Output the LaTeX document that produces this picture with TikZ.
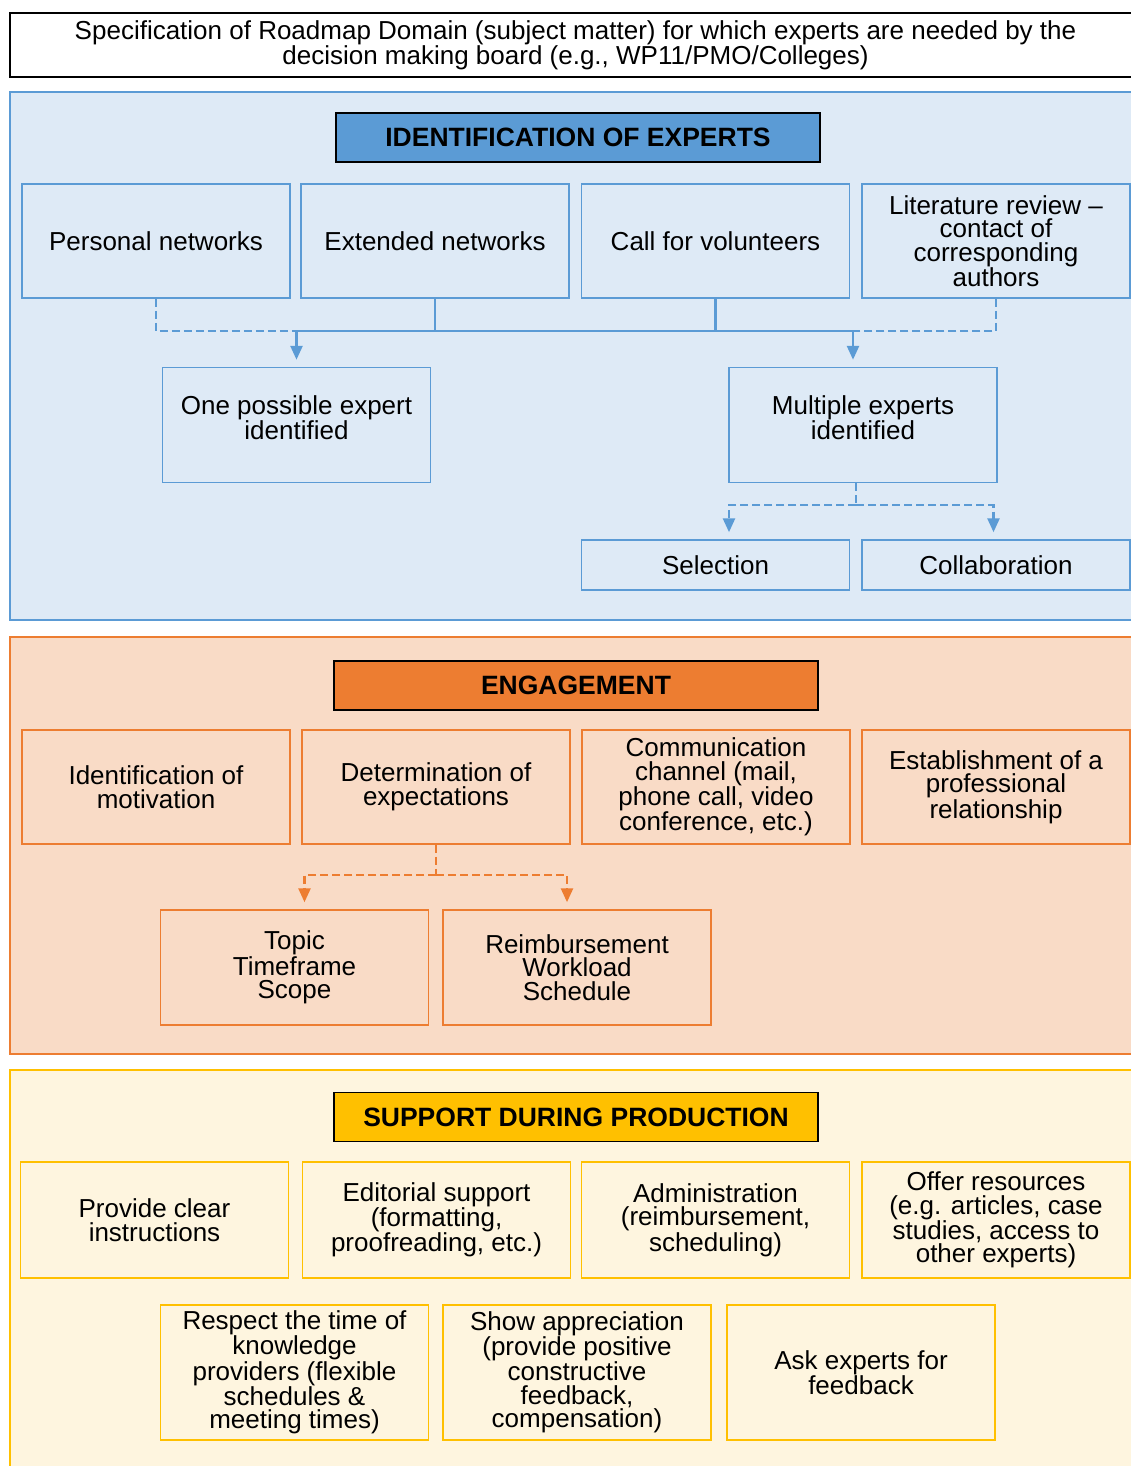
\documentclass[tikz,border=0pt]{standalone}
\usepackage{fontspec}
\setmainfont{Liberation Sans}
\usetikzlibrary{arrows.meta}
\definecolor{expblue}{HTML}{5B9BD5}
\definecolor{expbluebg}{HTML}{DEEAF6}
\definecolor{engorange}{HTML}{ED7D31}
\definecolor{engorangebg}{HTML}{F9DBC6}
\definecolor{supgold}{HTML}{FFC000}
\definecolor{supgoldbg}{HTML}{FEF5DF}

\begin{document}
\begin{tikzpicture}[x=1pt, y=-1pt,
  every node/.style={font=\fontsize{26}{23.5}\selectfont, align=center, inner sep=0pt},
  cell/.style={draw, line width=1.5pt, minimum width=268pt, minimum height=114pt},
  head/.style={draw=black, line width=1.2pt, minimum width=484pt, minimum height=49pt,
    font=\fontsize{26.5}{23.5}\selectfont\bfseries},
  panel/.style={line width=1.8pt},
  link/.style={line width=2.6pt},
  conn/.style={line width=2.6pt, dash pattern=on 8pt off 4pt},
  tip/.style={-{Triangle[length=14pt,width=12pt]}, shorten >=7pt}
]
\useasboundingbox (0,0) rectangle (1131,1466);

% Domain specification on top
\node[draw=black, line width=1.2pt, minimum width=1131pt, minimum height=64pt] (spec) at (575.5,45)
  {Specification of Roadmap Domain (subject matter) for which experts are needed by the\\decision making board (e.g., WP11/PMO/Colleges)};

% Identification of experts
\draw[panel, draw=expblue, fill=expbluebg] (10,92) rectangle (1145,620);
\node[head, fill=expblue] (idhead) at (578,137.5) {IDENTIFICATION OF EXPERTS};
\node[cell, draw=expblue] (pers) at (156,241) {Personal networks};
\node[cell, draw=expblue] (ext) at (435,241) {Extended networks};
\node[cell, draw=expblue] (call) at (715.5,241) {Call for volunteers};
\node[cell, draw=expblue] (lit) at (996,241) {Literature review --\\contact of\\corresponding\\authors};
\node[cell, draw=expblue, minimum height=115pt] (one) at (296.5,425) {One possible expert\\identified\\[-8pt]};
\node[cell, draw=expblue, minimum height=115pt] (multi) at (863,425) {Multiple experts\\identified\\[-8pt]};
\node[cell, draw=expblue, minimum height=50pt] (sel) at (715.5,565) {Selection};
\node[cell, draw=expblue, minimum height=50pt] (colb) at (996,565) {Collaboration};

\coordinate (lj) at (296.5,331);
\coordinate (rj) at (853,331);
\draw[conn, expblue] (pers.south) |- (lj);
\draw[conn, expblue] (lit.south) |- (rj);
\draw[link, expblue] (lj) -- (rj);
\draw[link, expblue] (ext.south) -- (ext.south |- lj);
\draw[link, expblue] (call.south) -- (call.south |- lj);
\draw[link, expblue, tip] (lj) -- (one.north);
\draw[link, expblue, tip] (rj) -- (rj |- multi.north);

\coordinate (mj) at (856,505);
\draw[conn, expblue] (mj |- multi.south) -- (mj);
\draw[conn, expblue, tip] (mj) -| ([xshift=13.5pt]sel.north);
\draw[conn, expblue, tip] (mj) -| ([xshift=-2.5pt]colb.north);

% Engagement
\draw[panel, draw=engorange, fill=engorangebg] (10,637) rectangle (1145,1054);
\node[head, fill=engorange] (enghead) at (576,685.5) {ENGAGEMENT};
\node[cell, draw=engorange] (motiv) at (156,787) {Identification of\\motivation};
\node[cell, draw=engorange] (det) at (436,787) {Determination of\\expectations};
\node[cell, draw=engorange] (chan) at (716,787) {Communication\\channel (mail,\\phone call, video\\conference, etc.)};
\node[cell, draw=engorange] (rel) at (996,787) {Establishment of a\\professional\\relationship};
\node[cell, draw=engorange, minimum height=115pt] (topic) at (294.5,967.5) {Topic\\Timeframe\\Scope};
\node[cell, draw=engorange, minimum height=115pt] (reimb) at (577,967.5) {Reimbursement\\Workload\\Schedule};

\coordinate (dj) at (436,875);
\draw[conn, engorange] (det.south) -- (dj);
\draw[conn, engorange, tip] (dj) -| ([xshift=10pt]topic.north);
\draw[conn, engorange, tip] (dj) -| ([xshift=-10pt]reimb.north);

% Support during production
\draw[panel, draw=supgold, fill=supgoldbg] (10,1070) rectangle (1145,1480);
\node[head, fill=supgold] (suphead) at (576,1117) {SUPPORT DURING PRODUCTION};
\node[cell, draw=supgold, minimum height=116pt] (instr) at (154.5,1220) {Provide clear\\instructions};
\node[cell, draw=supgold, minimum height=116pt] (edit) at (436.5,1220) {Editorial support\\(formatting,\\proofreading, etc.)};
\node[cell, draw=supgold, minimum height=116pt] (admin) at (715.5,1220) {Administration\\(reimbursement,\\scheduling)};
\node[cell, draw=supgold, minimum height=116pt] (res) at (996,1220) {Offer resources\\(e.g. articles, case\\studies, access to\\other experts)};
\node[cell, draw=supgold, minimum height=135pt] (resp) at (294.5,1372.5) {Respect the time of\\knowledge\\providers (flexible\\schedules \&\\meeting times)};
\node[cell, draw=supgold, minimum height=135pt] (appr) at (577,1372.5) {Show appreciation\\(provide positive\\constructive\\feedback,\\compensation)};
\node[cell, draw=supgold, minimum height=135pt] (ask) at (861,1372.5) {Ask experts for\\feedback};
\end{tikzpicture}
\end{document}
